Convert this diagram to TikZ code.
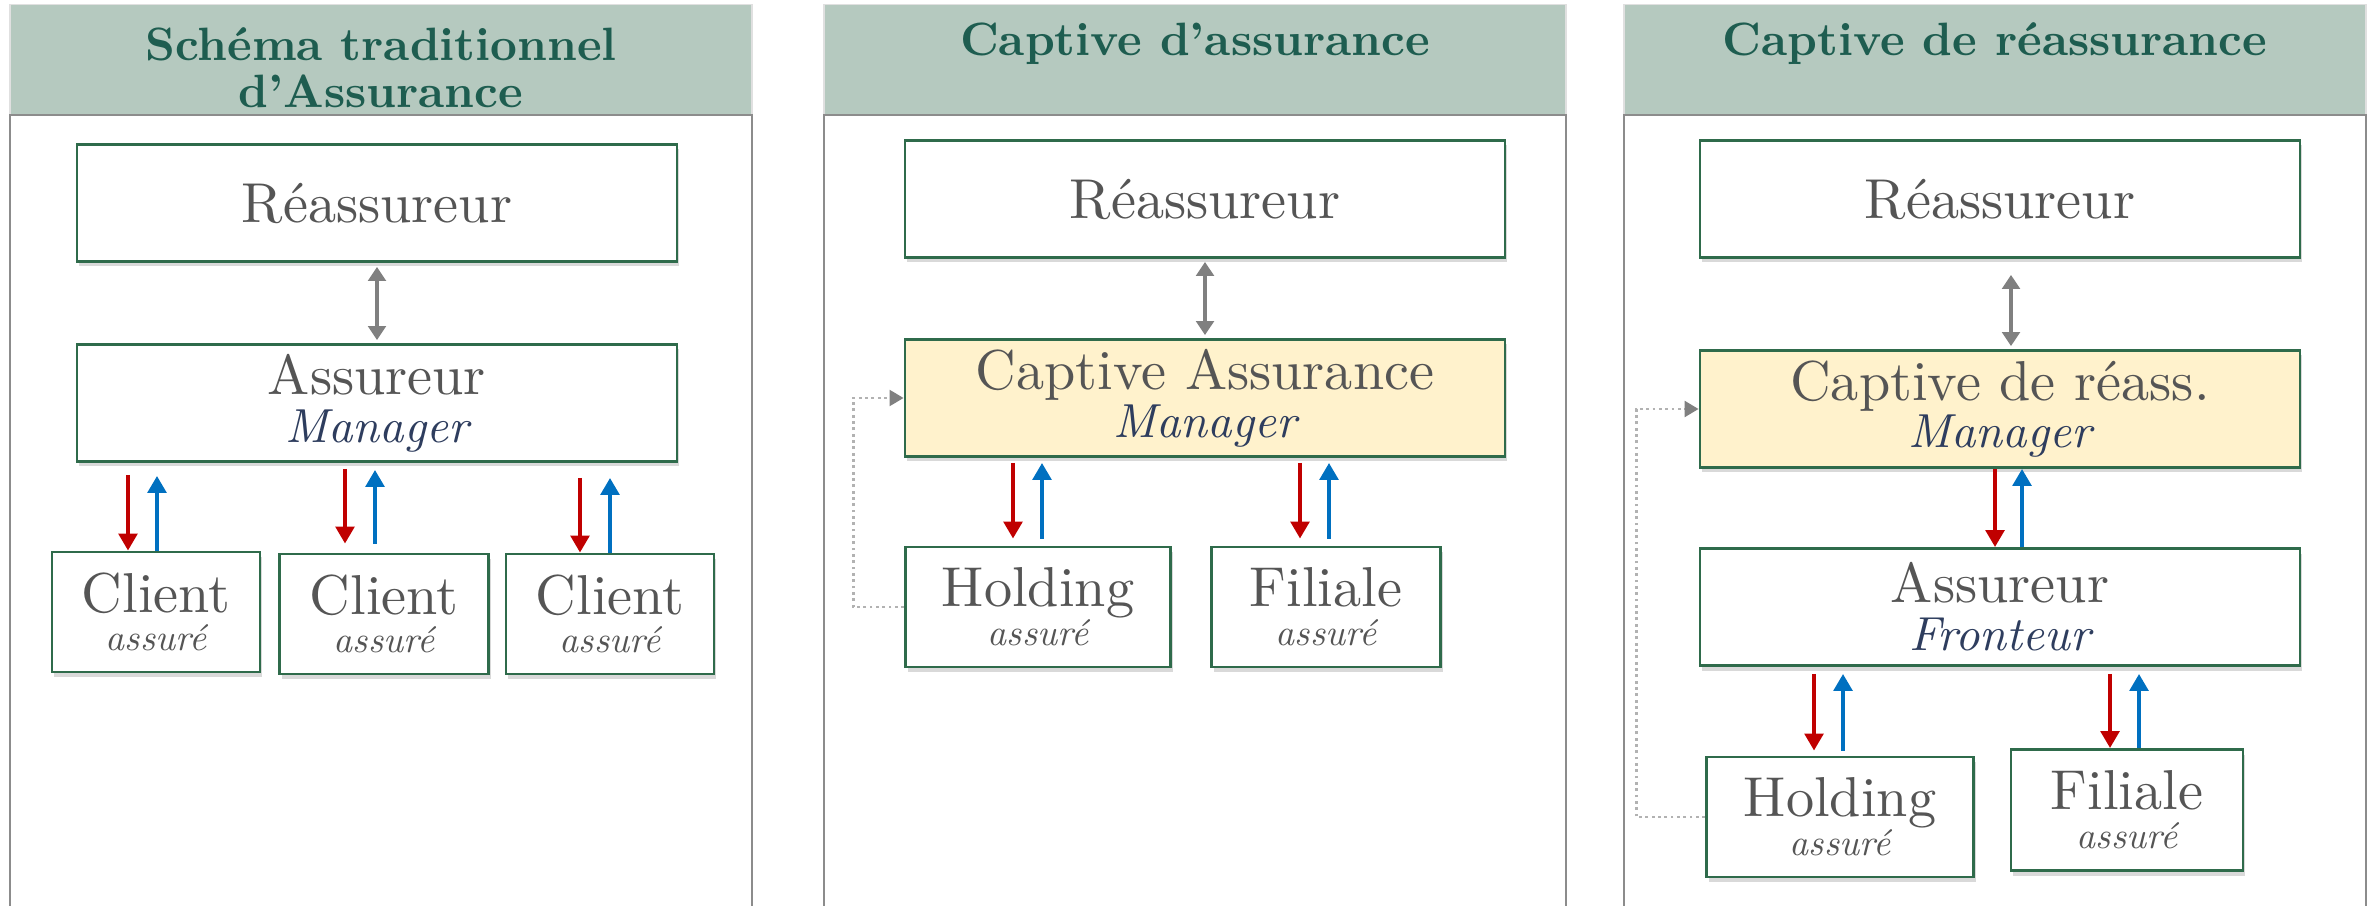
\documentclass[tikz,border=0pt]{standalone}
\usepackage{fontspec}
\setmainfont{lmroman10-regular.otf}[
	BoldFont=lmroman10-bold.otf,
	ItalicFont=lmroman10-italic.otf,
	BoldItalicFont=lmroman10-bolditalic.otf]
\usetikzlibrary{calc}
\usetikzlibrary{arrows.meta}
\usetikzlibrary{shadows}
\usetikzlibrary{positioning}

\definecolor{headfill}{HTML}{B5C9BF}
\definecolor{headtext}{HTML}{1E5D50}
\definecolor{boxline}{HTML}{2F6B4B}
\definecolor{textgray}{HTML}{555555}
\definecolor{rolenavy}{HTML}{2E3D5E}
\definecolor{captfill}{HTML}{FFF2CC}
\definecolor{flowred}{HTML}{C00000}
\definecolor{flowblue}{HTML}{0070C0}
\definecolor{linkgray}{HTML}{808080}
\definecolor{framegray}{HTML}{8C8C8C}

\newcommand{\rolefont}{\fontsize{13.6}{13.6}\selectfont\itshape\color{rolenavy}}
\newcommand{\insuredfont}{\fontsize{10.6}{11}\selectfont\itshape}

\tikzset{
	align=center,
	panel/.style={
		draw=framegray,
		line width=0.7pt,
		minimum width=74.2mm,
		minimum height=80mm,
		inner sep=0pt,
	},
	header/.style={
		draw=black!12,
		fill=headfill,
		line width=0.5pt,
		minimum width=74.2mm,
		minimum height=11.1mm,
		inner sep=0pt,
	},
	title/.style={
		text=headtext,
		font=\fontsize{13.3}{13.4}\selectfont\bfseries,
		inner sep=0pt,
		anchor=north,
	},
	box/.style={
		draw=boxline,
		line width=0.8pt,
		fill=white,
		text=textgray,
		inner sep=0pt,
		drop shadow={shadow xshift=0.2mm, shadow yshift=-0.5mm, opacity=0.3},
	},
	bigbox/.style={
		box,
		minimum width=60mm,
		minimum height=11.7mm,
		font=\fontsize{16}{13.6}\selectfont,
	},
	smallbox/.style={
		box,
		minimum height=12mm,
		font=\fontsize{16}{11}\selectfont,
	},
	captive/.style={fill=captfill},
	exchange/.style={
		draw=linkgray,
		line width=1.2pt,
		{Triangle[width=5pt,length=4pt]}-{Triangle[width=5pt,length=4pt]},
	},
	flowdown/.style={
		draw=flowred,
		line width=1.2pt,
		-{Triangle[width=5.2pt,length=4.8pt]},
	},
	flowup/.style={
		draw=flowblue,
		line width=1.2pt,
		-{Triangle[width=5.2pt,length=4.8pt]},
	},
	backlink/.style={
		draw=black!30,
		line width=0.8pt,
		densely dotted,
		-{Triangle[width=4.5pt,length=4pt,color=linkgray]},
	},
}

\begin{document}
\begin{tikzpicture}[x=0.1mm, y=-0.1mm]
	\useasboundingbox (0,0) rectangle (2374,906);

	% panel frames
	\node[header] (head1) at (381,60) {};
	\node[panel]  (body1) at (381,515) {};
	\node[title]  (title1) at (381,27) {Schéma traditionnel\\d’Assurance};

	\node[header] (head2) at (1195,60) {};
	\node[panel]  (body2) at (1195,515) {};
	\node[title]  (title2) at (1195,22) {Captive d’assurance};

	\node[header] (head3) at (1995,60) {};
	\node[panel]  (body3) at (1995,515) {};
	\node[title]  (title3) at (1995,22) {Captive de réassurance};

	% traditional scheme
	\node[bigbox] (reass1) at (377,203) {Réassureur};
	\node[bigbox] (assur1) at (377,403) {Assureur\\{\rolefont Manager}};
	\node[smallbox, minimum width=20.8mm] (client1) at (156,612) {Client\\{\insuredfont assuré}};
	\node[smallbox, minimum width=20.9mm] (client2) at (384,614) {Client\\{\insuredfont assuré}};
	\node[smallbox, minimum width=20.8mm] (client3) at (610,614) {Client\\{\insuredfont assuré}};

	\draw[exchange, shorten <=0.4mm, shorten >=0.3mm] (reass1) -- (assur1);
	\draw[flowdown, shorten <=1.2mm] ($(client1.north |- assur1.south)+(-28,0)$) -- ($(client1.north)+(-28,0)$);
	\draw[flowup, shorten >=1.3mm]   ($(client1.north)+(1,0)$) -- ($(client1.north |- assur1.south)+(1,0)$);
	\draw[flowdown, shorten <=0.6mm, shorten >=0.9mm] ($(client2.north |- assur1.south)+(-39,0)$) -- ($(client2.north)+(-39,0)$);
	\draw[flowup, shorten <=0.9mm, shorten >=0.7mm]   ($(client2.north)+(-9,0)$) -- ($(client2.north |- assur1.south)+(-9,0)$);
	\draw[flowdown, shorten <=1.5mm] ($(client3.north |- assur1.south)+(-30,0)$) -- ($(client3.north)+(-30,0)$);
	\draw[flowup, shorten >=1.5mm]   ($(client3.north)+(0,0)$) -- ($(client3.north |- assur1.south)+(0,0)$);

	% insurance captive
	\node[bigbox] (reass2) at (1205,199) {Réassureur};
	\node[bigbox, captive] (capt2) at (1205,398) {Captive Assurance\\{\rolefont Manager}};
	\node[smallbox, minimum width=26.5mm] (hold2) at (1038,607) {Holding\\{\insuredfont assuré}};
	\node[smallbox, minimum width=22.9mm] (fil2) at (1326,607) {Filiale\\{\insuredfont assuré}};

	\draw[exchange, shorten <=0.3mm, shorten >=0.3mm] (reass2) -- (capt2);
	\draw[flowdown, shorten <=0.5mm, shorten >=0.7mm] ($(hold2.north |- capt2.south)+(-25,0)$) -- ($(hold2.north)+(-25,0)$);
	\draw[flowup, shorten <=0.7mm, shorten >=0.5mm]   ($(hold2.north)+(4,0)$) -- ($(hold2.north |- capt2.south)+(4,0)$);
	\draw[flowdown, shorten <=0.5mm, shorten >=0.7mm] ($(fil2.north |- capt2.south)+(-26,0)$) -- ($(fil2.north)+(-26,0)$);
	\draw[flowup, shorten <=0.7mm, shorten >=0.5mm]   ($(fil2.north)+(3,0)$) -- ($(fil2.north |- capt2.south)+(3,0)$);
	\draw[backlink] (hold2.west) -- ++(-51,0) |- (capt2.west);

	% reinsurance captive
	\node[bigbox] (reass3) at (2000,199) {Réassureur};
	\node[bigbox, captive] (capt3) at (2000,409) {Captive de réass.\\{\rolefont Manager}};
	\node[bigbox] (front3) at (2000,607) {Assureur\\{\rolefont Fronteur}};
	\node[smallbox, minimum width=26.7mm] (hold3) at (1840,817) {Holding\\{\insuredfont assuré}};
	\node[smallbox, minimum width=23.2mm, minimum height=12.1mm] (fil3) at (2127,810) {Filiale\\{\insuredfont assuré}};

	\draw[exchange, shorten <=1.6mm, shorten >=0.3mm] ($(reass3.south)+(11,0)$) -- ($(capt3.north)+(11,0)$);
	\draw[flowdown] ($(front3.north |- capt3.south)+(-5,0)$) -- ($(front3.north)+(-5,0)$);
	\draw[flowup]   ($(front3.north)+(22,0)$) -- ($(front3.north |- capt3.south)+(22,0)$);
	\draw[flowdown, shorten <=0.7mm, shorten >=0.5mm] ($(hold3.north |- front3.south)+(-26,0)$) -- ($(hold3.north)+(-26,0)$);
	\draw[flowup, shorten <=0.5mm, shorten >=0.7mm]   ($(hold3.north)+(3,0)$) -- ($(hold3.north |- front3.south)+(3,0)$);
	\draw[flowdown, shorten <=0.7mm] ($(fil3.north |- front3.south)+(-17,0)$) -- ($(fil3.north)+(-17,0)$);
	\draw[flowup, shorten >=0.7mm]   ($(fil3.north)+(12,0)$) -- ($(fil3.north |- front3.south)+(12,0)$);
	\draw[backlink] (hold3.west) -- ++(-69,0) |- (capt3.west);

\end{tikzpicture}
\end{document}
